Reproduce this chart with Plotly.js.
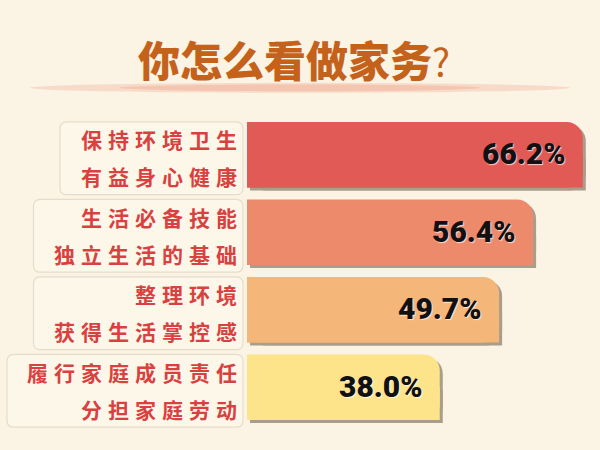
<!DOCTYPE html>
<html>
<head>
<meta charset="utf-8">
<script src="https://cdn.plot.ly/plotly-3.0.1.min.js"></script>
<style>
html, body { margin: 0; padding: 0; background: #fbf3e3; }
.ytick text, .y2tick text { letter-spacing: 6px; }
</style>
</head>
<body>
<div id="chart" style="width:600px;height:450px;"></div>
<script>
// 两行标签 + 比例
var line1 = ['保持环境卫生', '生活必备技能', '整理环境', '履行家庭成员责任'];
var line2 = ['有益身心健康', '独立生活的基础', '获得生活掌控感', '分担家庭劳动'];
var shares = [66.2, 56.4, 49.7, 38.0];
var barColors = ['#e25a55', '#ec8a6b', '#f5b679', '#fde48b'];
var rowIdx = [0, 1, 2, 3];

var BW = 0.843;          // 柱宽(类目单位)
var SHADOW = '#a99d8c';

function chart(){

/* 阴影 */
var shadowTop = {
  y: line1, x: shares, base: 0.6, type: 'bar', orientation: 'h',
  width: BW, offset: -BW / 2 + 0.04,
  marker: {color: SHADOW, cornerradius: 16},
  hoverinfo: 'skip'
};
var shadowBottom = {
  y: line1, x: shares, base: 0.6, type: 'bar', orientation: 'h',
  width: BW / 2, offset: 0.04,
  marker: {color: SHADOW},
  hoverinfo: 'skip'
};

/* 主柱：右上圆角，右下直角 */
var barTop = {
  y: line1, x: shares, type: 'bar', orientation: 'h',
  width: BW, offset: -BW / 2,
  marker: {color: barColors, cornerradius: 16},
  hoverinfo: 'skip'
};
var barBottom = {
  y: line1, x: shares, type: 'bar', orientation: 'h',
  width: BW / 2, offset: 0,
  marker: {color: barColors},
  hoverinfo: 'skip'
};

/* 第二行标签用的轴，需要挂一条看不见的 trace */
var ghost = {
  y: rowIdx, x: shares, yaxis: 'y2', type: 'scatter', mode: 'markers',
  marker: {opacity: 0}, hoverinfo: 'skip'
};

var data = [shadowTop, shadowBottom, barTop, barBottom, ghost];

/* 数值 */
var notes = shares.map(function(v, i){
  return {
    x: v, y: line1[i], xref: 'x', yref: 'y',
    text: v.toFixed(1) + '%', showarrow: false,
    xanchor: 'right', xshift: -15, yshift: 1,
    font: {family: 'Roboto, Liberation Sans, sans-serif', size: 30,
           weight: 900, color: '#111', shadow: '1px 1px 1px rgba(255,255,255,0.7)'}
  };
});

/* 标签框 */
var W = 353, H = 310, L = 247;
function box(i){
  var n = Math.max(line1[i].length, line2[i].length);
  var x1 = (243 - L) / W, x0 = (243 - n * 26.5 - 24 - L) / W;
  var yt = (3.5 - (i - 0.425)) / 4, yb = (3.5 - (i + 0.515)) / 4;
  var rx = 7 / W, ry = 7 / H;
  var p = 'M' + (x0 + rx) + ',' + yt + ' L' + (x1 - rx) + ',' + yt +
          ' Q' + x1 + ',' + yt + ' ' + x1 + ',' + (yt - ry) +
          ' L' + x1 + ',' + (yb + ry) + ' Q' + x1 + ',' + yb + ' ' + (x1 - rx) + ',' + yb +
          ' L' + (x0 + rx) + ',' + yb + ' Q' + x0 + ',' + yb + ' ' + x0 + ',' + (yb + ry) +
          ' L' + x0 + ',' + (yt - ry) + ' Q' + x0 + ',' + yt + ' ' + (x0 + rx) + ',' + yt + ' Z';
  return {type: 'path', xref: 'paper', yref: 'paper', path: p, layer: 'below',
          fillcolor: '#fdf7ea', line: {color: '#e6dccb', width: 1.2}};
}
var shapes = rowIdx.map(box);
/* 标题下的光晕 */
shapes.push({type: 'circle', xref: 'paper', yref: 'paper', layer: 'below',
  x0: -0.615, x1: 0.915, y0: 1.075, y1: 1.107,
  fillcolor: 'rgba(240,175,150,0.35)', line: {width: 0}});
shapes.push({type: 'circle', xref: 'paper', yref: 'paper', layer: 'below',
  x0: -0.36, x1: 0.66, y0: 1.080, y1: 1.102,
  fillcolor: 'rgba(238,160,135,0.35)', line: {width: 0}});

var labelFont = {family: 'Noto Sans CJK SC, sans-serif', size: 21, weight: 'bold', color: '#d8413f'};

var layout = {
  width: 600, height: 450,
  margin: {l: 247, r: 0, t: 116, b: 24},
  paper_bgcolor: '#fbf3e3', plot_bgcolor: 'rgba(0,0,0,0)',
  barmode: 'overlay', showlegend: false,
  title: {
    text: '你怎么看做家务<span style="font-weight:normal;font-size:38px">?</span>',
    x: 0.49, xref: 'container', xanchor: 'center',
    y: 0.862, yref: 'container', yanchor: 'middle',
    font: {family: 'Noto Sans CJK SC, sans-serif', size: 42, weight: 900, color: '#c4621c'}
  },
  xaxis: {range: [0, 69.6], visible: false, fixedrange: true},
  yaxis: {
    type: 'category', categoryorder: 'array', categoryarray: line1,
    range: [3.5, -0.5], showgrid: false, zeroline: false, showline: false,
    ticks: '', ticklabelshift: 14, ticklabelstandoff: 3,
    tickfont: labelFont, fixedrange: true
  },
  yaxis2: {
    overlaying: 'y', side: 'left', type: 'linear',
    range: [3.5, -0.5], tickvals: rowIdx, ticktext: line2,
    showgrid: false, zeroline: false, showline: false,
    ticks: '', ticklabelshift: -23, ticklabelstandoff: 3,
    tickfont: labelFont, fixedrange: true
  },
  shapes: shapes,
  annotations: notes
};

Plotly.newPlot('chart', data, layout, {displayModeBar: false, staticPlot: true});
}

chart();
</script>
</body>
</html>
